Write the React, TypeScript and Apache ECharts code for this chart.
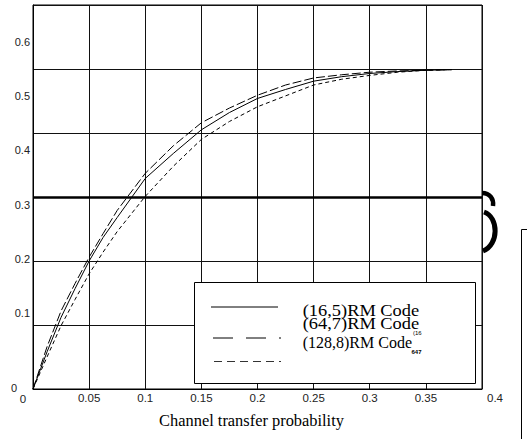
import React, { useEffect, useRef } from "react";
import * as echarts from "echarts";

// Channel transfer probability (x) sample positions
const xValues = [0, 0.0125, 0.025, 0.0375, 0.05, 0.0625, 0.075, 0.1, 0.125, 0.15, 0.175, 0.2, 0.225, 0.25, 0.275, 0.3, 0.325, 0.35, 0.373];
// Curves
const code16_5 = [0, 0.058, 0.112, 0.157, 0.2, 0.237, 0.268, 0.329, 0.368, 0.405, 0.432, 0.454, 0.468, 0.481, 0.488, 0.493, 0.496, 0.498, 0.499];
const code64_7 = [0, 0.066, 0.122, 0.165, 0.206, 0.243, 0.279, 0.337, 0.38, 0.416, 0.439, 0.459, 0.475, 0.486, 0.491, 0.495, 0.497, 0.498, 0.499];
const code128_8 = [0, 0.05, 0.099, 0.14, 0.18, 0.214, 0.246, 0.301, 0.348, 0.39, 0.418, 0.441, 0.458, 0.475, 0.484, 0.49, 0.495, 0.498, 0.499];
const seriesNames = ["(16,5)RM Code", "(64,7)RM Code", "(128,8)RM Code"];
const thresholdValue = 0.3;
// Tick labels
const xTickLabels = [0.05, 0.1, 0.15, 0.2, 0.25, 0.3, 0.35];
const yTickLabels = [0.1, 0.2, 0.3, 0.4, 0.5, 0.6];
const xTitle = "Channel transfer probability";

const pairs = (ys: number[]) => xValues.map((x, i) => [x, ys[i]]);

export default function App() {
  const ref = useRef<HTMLDivElement>(null);
  useEffect(() => {
    if (!ref.current) return;
    const chart = echarts.init(ref.current, null, { renderer: "svg" });
    const sans = '"Liberation Sans", Arial, sans-serif';
    const serif = '"Liberation Serif", "Times New Roman", serif';
    const lineSeries = (name: string, data: number[], type: any, extra: any = {}) => ({
      name,
      type: "line",
      xAxisIndex: 0,
      yAxisIndex: 0,
      data: pairs(data),
      showSymbol: false,
      symbol: "none",
      smooth: false,
      lineStyle: { color: "#000", width: 1, type },
      z: 3,
      ...extra,
    });
    chart.setOption({
      animation: false,
      backgroundColor: "#fff",
      grid: { left: 33, right: 45, top: 5, bottom: 50, show: true, borderColor: "#000", borderWidth: 1, backgroundColor: "transparent" },
      xAxis: [
        {
          type: "value",
          min: 0,
          max: 0.4,
          interval: 0.05,
          axisLine: { show: true, lineStyle: { color: "#000", width: 1 } },
          axisTick: { show: false },
          splitLine: { show: true, lineStyle: { color: "#111", width: 1 } },
          axisLabel: { customValues: xTickLabels, fontSize: 11.5, fontFamily: sans, color: "#222", margin: 3 },
          name: xTitle,
          nameLocation: "middle",
          nameGap: 23,
          nameTextStyle: { fontFamily: serif, fontSize: 16.4, color: "#000", padding: [0, 12, 0, 0] },
        },
      ],
      yAxis: [
        {
          type: "value",
          min: 0,
          max: 0.6,
          interval: 0.1,
          position: "left",
          axisLine: { show: true, lineStyle: { color: "#000", width: 1 } },
          axisTick: { show: false },
          splitLine: { show: true, lineStyle: { color: "#111", width: 1 } },
          axisLabel: { show: false },
        },
        {
          type: "value",
          min: -0.04,
          max: 0.668,
          position: "left",
          axisLine: { show: false },
          axisTick: { show: false },
          splitLine: { show: false },
          axisLabel: { customValues: yTickLabels, fontSize: 11, fontFamily: sans, color: "#222", margin: 3 },
        },
      ],
      series: [
        lineSeries(seriesNames[0], code16_5, "solid", {
          markLine: {
            silent: true,
            symbol: "none",
            label: { show: false },
            lineStyle: { color: "#000", width: 2.5, type: "solid" },
            data: [{ yAxis: thresholdValue }],
          },
        }),
        lineSeries(seriesNames[1], code64_7, [9, 3]),
        lineSeries(seriesNames[2], code128_8, [4, 3]),
      ],
      graphic: {
        elements: [
          { type: "text", x: 14, y: 388, z: 60, style: { text: "0", font: `11px ${sans}`, fill: "#222", align: "center", verticalAlign: "middle" } },
          { type: "text", x: 23, y: 399, z: 60, style: { text: "0", font: `11.5px ${sans}`, fill: "#222", align: "center", verticalAlign: "middle" } },
          { type: "text", x: 495, y: 398, z: 60, style: { text: "0.4", font: `11.5px ${sans}`, fill: "#222", align: "center", verticalAlign: "middle" } },
          { type: "rect", z: 50, shape: { x: 194.5, y: 282.5, width: 281, height: 101 }, style: { fill: "#fff", stroke: "#000", lineWidth: 1 } },
          { type: "line", z: 51, shape: { x1: 211, y1: 307, x2: 278, y2: 307 }, style: { stroke: "#000", lineWidth: 1 } },
          { type: "line", z: 51, shape: { x1: 213, y1: 338, x2: 281, y2: 338 }, style: { stroke: "#000", lineWidth: 1, lineDash: [20, 13, 20, 13, 2, 20] } },
          { type: "line", z: 51, shape: { x1: 214, y1: 361.5, x2: 281, y2: 361.5 }, style: { stroke: "#333", lineWidth: 1.2, lineDash: [8, 5] } },
          { type: "text", z: 52, x: 302.7, y: 310.5, scaleX: 1.15, style: { text: seriesNames[0], font: `16px ${serif}`, fill: "#000", align: "left", verticalAlign: "middle" } },
          { type: "text", z: 52, x: 302.7, y: 324, scaleX: 1.15, style: { text: seriesNames[1], font: `16px ${serif}`, fill: "#000", align: "left", verticalAlign: "middle" } },
          { type: "text", z: 52, x: 302.7, y: 342, style: { text: seriesNames[2], font: `16px ${serif}`, fill: "#000", align: "left", verticalAlign: "middle" } },
          { type: "text", z: 52, x: 413, y: 333, style: { text: "(16", font: `6px ${sans}`, fill: "#000", align: "left", verticalAlign: "middle" } },
          { type: "text", z: 52, x: 411.5, y: 352, style: { text: "647", font: `bold 6px ${sans}`, fill: "#000", align: "left", verticalAlign: "middle" } },
          { type: "bezierCurve", z: 40, shape: { x1: 482, y1: 193, cpx1: 490, cpy1: 193, cpx2: 494, cpy2: 199, x2: 493, y2: 206 }, style: { stroke: "#000", lineWidth: 4.5, fill: "none" } },
          { type: "bezierCurve", z: 40, shape: { x1: 484, y1: 212, cpx1: 499, cpy1: 217, cpx2: 499, cpy2: 245, x2: 483, y2: 251 }, style: { stroke: "#000", lineWidth: 5, fill: "none" } },
          { type: "line", z: 40, shape: { x1: 521.5, y1: 229.5, x2: 521.5, y2: 439 }, style: { stroke: "#000", lineWidth: 1 } },
          { type: "line", z: 40, shape: { x1: 521.5, y1: 229.5, x2: 527, y2: 229.5 }, style: { stroke: "#000", lineWidth: 1 } },
        ],
      },
    });
    return () => chart.dispose();
  }, []);
  return <div ref={ref} style={{ position: "fixed", left: 0, top: 0, width: 527, height: 439 }} />;
}
